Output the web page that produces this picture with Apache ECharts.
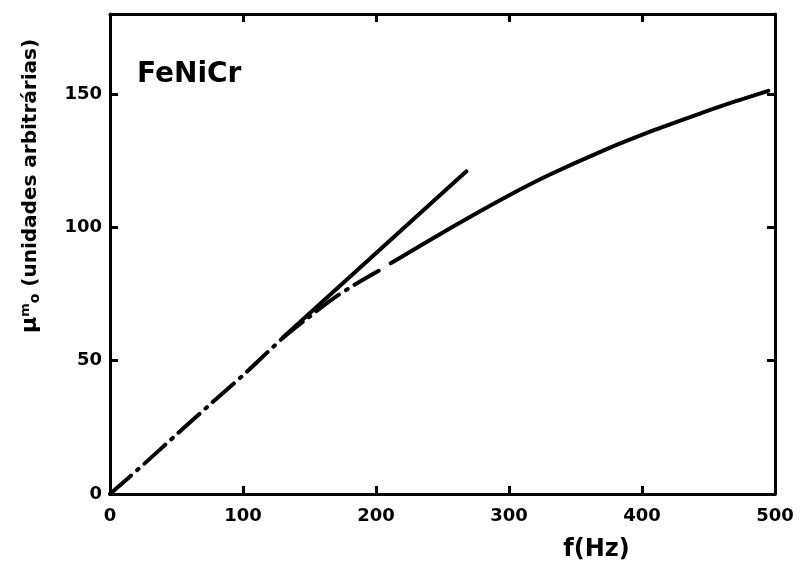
<!DOCTYPE html>
<html>
<head>
<meta charset="utf-8">
<script src="https://cdn.jsdelivr.net/npm/echarts@6.0.0/dist/echarts.min.js"></script>
<style>
  html, body { margin: 0; background: #fff; }
  #chart { width: 805px; height: 567px; }
</style>
</head>
<body>
<div id="chart"></div>
<script>
// measured curve, dash-dot part (f in Hz, mu in arbitrary units)
const lowF = [0, 25, 50, 75, 100, 130, 150, 167, 185, 203]
const lowMu = [0, 11, 22.3, 33.5, 44.5, 58.5, 66.5, 73, 78.8, 84]

// measured curve, solid part
const highF = [211, 250, 296, 330, 370, 410, 445, 470, 495]
const highMu = [86.5, 98, 110.9, 119.6, 128.6, 136.6, 142.9, 147.2, 151.2]

// initial tangent
const tangentF = [130, 268]
const tangentMu = [58.7, 121]

const font = 'DejaVu Sans'
const black = '#000'

const chart = echarts.init(document.getElementById('chart'))

const axisLine = { show: true, onZero: false, lineStyle: { color: black, width: 3 } }
const axisTick = { show: true, inside: true, length: 8, lineStyle: { color: black, width: 3 } }

const option = {
  backgroundColor: '#fff',
  animation: false,
  title: {
    text: 'FeNiCr',
    left: 137,
    top: 61,
    padding: 0,
    textStyle: { fontFamily: font, fontSize: 28, fontWeight: 'bold', color: black },
  },
  grid: { left: 110, right: 30, top: 14, bottom: 72 },
  xAxis: [
    {
      type: 'value',
      position: 'bottom',
      min: 0,
      max: 500,
      interval: 100,
      axisLine: axisLine,
      axisTick: axisTick,
      splitLine: { show: false },
      axisLabel: { color: black, fontFamily: font, fontSize: 18, fontWeight: 'bold', margin: 13 },
      name: 'f(Hz)',
      nameLocation: 'middle',
      nameGap: 44,
      nameTextStyle: {
        color: black,
        fontFamily: font,
        fontSize: 24,
        fontWeight: 'bold',
        padding: [0, 0, 0, 308],
      },
    },
    {
      type: 'value',
      position: 'top',
      min: 0,
      max: 500,
      interval: 100,
      axisLine: axisLine,
      axisTick: axisTick,
      axisLabel: { show: false },
      splitLine: { show: false },
    },
  ],
  yAxis: [
    {
      type: 'value',
      position: 'left',
      min: 0,
      max: 180,
      interval: 50,
      axisLine: axisLine,
      axisTick: axisTick,
      splitLine: { show: false },
      axisLabel: {
        color: black,
        fontFamily: font,
        fontSize: 18,
        fontWeight: 'bold',
        margin: 8,
        showMaxLabel: false,
      },
      name: '{mu|μ}{sup|m}{sub|o} (unidades arbitrárias)',
      nameLocation: 'middle',
      nameRotate: 90,
      nameGap: 68,
      nameTextStyle: {
        color: black,
        fontFamily: font,
        fontSize: 20,
        fontWeight: 'bold',
        padding: [0, 0, 0, 136],
        rich: {
          mu: { fontFamily: font, fontSize: 22, fontWeight: 'bold', color: black },
          sup: { fontFamily: font, fontSize: 13, fontWeight: 'bold', color: black, verticalAlign: 'top', padding: [0, 0, 10, 0] },
          sub: { fontFamily: font, fontSize: 14, fontWeight: 'bold', color: black, verticalAlign: 'bottom' },
        },
      },
    },
    {
      type: 'value',
      position: 'right',
      min: 0,
      max: 180,
      interval: 50,
      axisLine: axisLine,
      axisTick: axisTick,
      axisLabel: { show: false },
      splitLine: { show: false },
    },
  ],
  series: [
    {
      type: 'line',
      data: lowF.map((f, i) => [f, lowMu[i]]),
      smooth: 0.3,
      symbol: 'none',
      lineStyle: { color: black, width: 4, type: [28, 8, 2, 8], cap: 'round' },
    },
    {
      type: 'line',
      data: highF.map((f, i) => [f, highMu[i]]),
      smooth: 0.3,
      symbol: 'none',
      lineStyle: { color: black, width: 4, cap: 'round' },
    },
    {
      type: 'line',
      data: tangentF.map((f, i) => [f, tangentMu[i]]),
      symbol: 'none',
      lineStyle: { color: black, width: 4, cap: 'round' },
    },
  ],
}

chart.setOption(option)
</script>
</body>
</html>
